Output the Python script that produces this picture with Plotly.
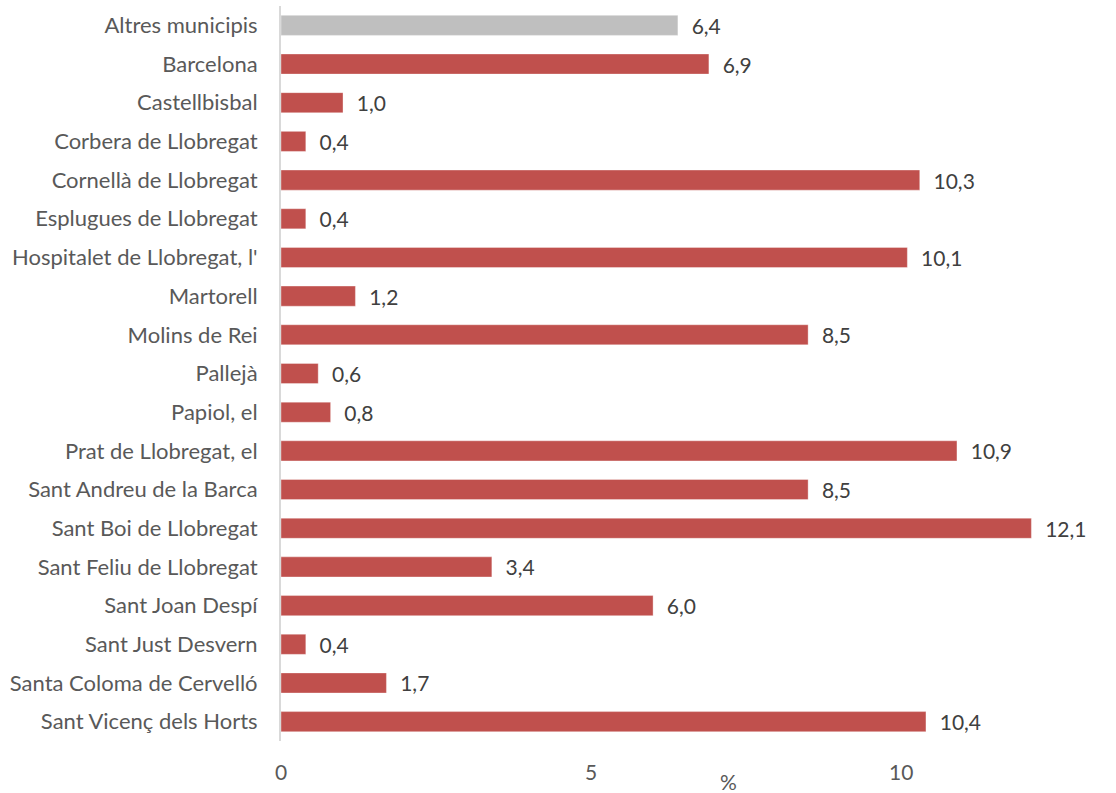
import plotly.graph_objects as go

categories = ["Altres municipis", "Barcelona", "Castellbisbal", "Corbera de Llobregat",
              "Cornellà de Llobregat", "Esplugues de Llobregat", "Hospitalet de Llobregat, l'",
              "Martorell", "Molins de Rei", "Pallejà", "Papiol, el", "Prat de Llobregat, el",
              "Sant Andreu de la Barca", "Sant Boi de Llobregat", "Sant Feliu de Llobregat",
              "Sant Joan Despí", "Sant Just Desvern", "Santa Coloma de Cervelló",
              "Sant Vicenç dels Horts"]
values = [6.4, 6.9, 1.0, 0.4, 10.3, 0.4, 10.1, 1.2, 8.5, 0.6, 0.8, 10.9, 8.5, 12.1, 3.4,
          6.0, 0.4, 1.7, 10.4]
tick_vals = [0, 5, 10]
tick_text = ["0", "5", "10"]

FONT = "Lato, Carlito, sans-serif"
colors = ["#BFBFBF" if c == "Altres municipis" else "#C0504D" for c in categories]
labels = ["\u00a0\u00a0" + f"{v:.1f}".replace(".", ",") for v in values]

fig = go.Figure(go.Bar(
    y=categories, x=values, orientation="h",
    marker=dict(color=colors, line=dict(color="rgba(255,255,255,0.35)", width=1)),
    text=labels, textposition="outside", cliponaxis=False, constraintext="none",
    textfont=dict(family=FONT, size=21, color="#404040"),
    width=0.52,
))

fig.update_layout(
    width=1116, height=793,
    margin=dict(l=281, r=4, t=6, b=52),
    plot_bgcolor="white", paper_bgcolor="white",
    showlegend=False,
    font=dict(family=FONT, size=22, color="#595959"),
)
fig.add_annotation(text="%", x=(728 - 281) / (1116 - 281 - 4), xref="paper",
                   y=-(781 - 741) / (793 - 6 - 52), yref="paper", yanchor="middle",
                   showarrow=False, font=dict(family=FONT, size=21, color="#595959"))
fig.update_yaxes(
    autorange="reversed", showgrid=False, showline=True, linecolor="#D9D9D9", linewidth=2,
    ticks="", ticklabelstandoff=17, tickfont=dict(size=22, color="#595959"),
    automargin=False,
)
fig.update_xaxes(
    range=[0, 13.40], tickvals=tick_vals, ticktext=tick_text, showgrid=False,
    zeroline=False, showline=False, ticks="", ticklabelstandoff=17,
    tickfont=dict(size=21, color="#595959"), automargin=False,
)

fig.write_html("out.html", config={"displayModeBar": False},
               post_script="document.body.style.margin='0';")
